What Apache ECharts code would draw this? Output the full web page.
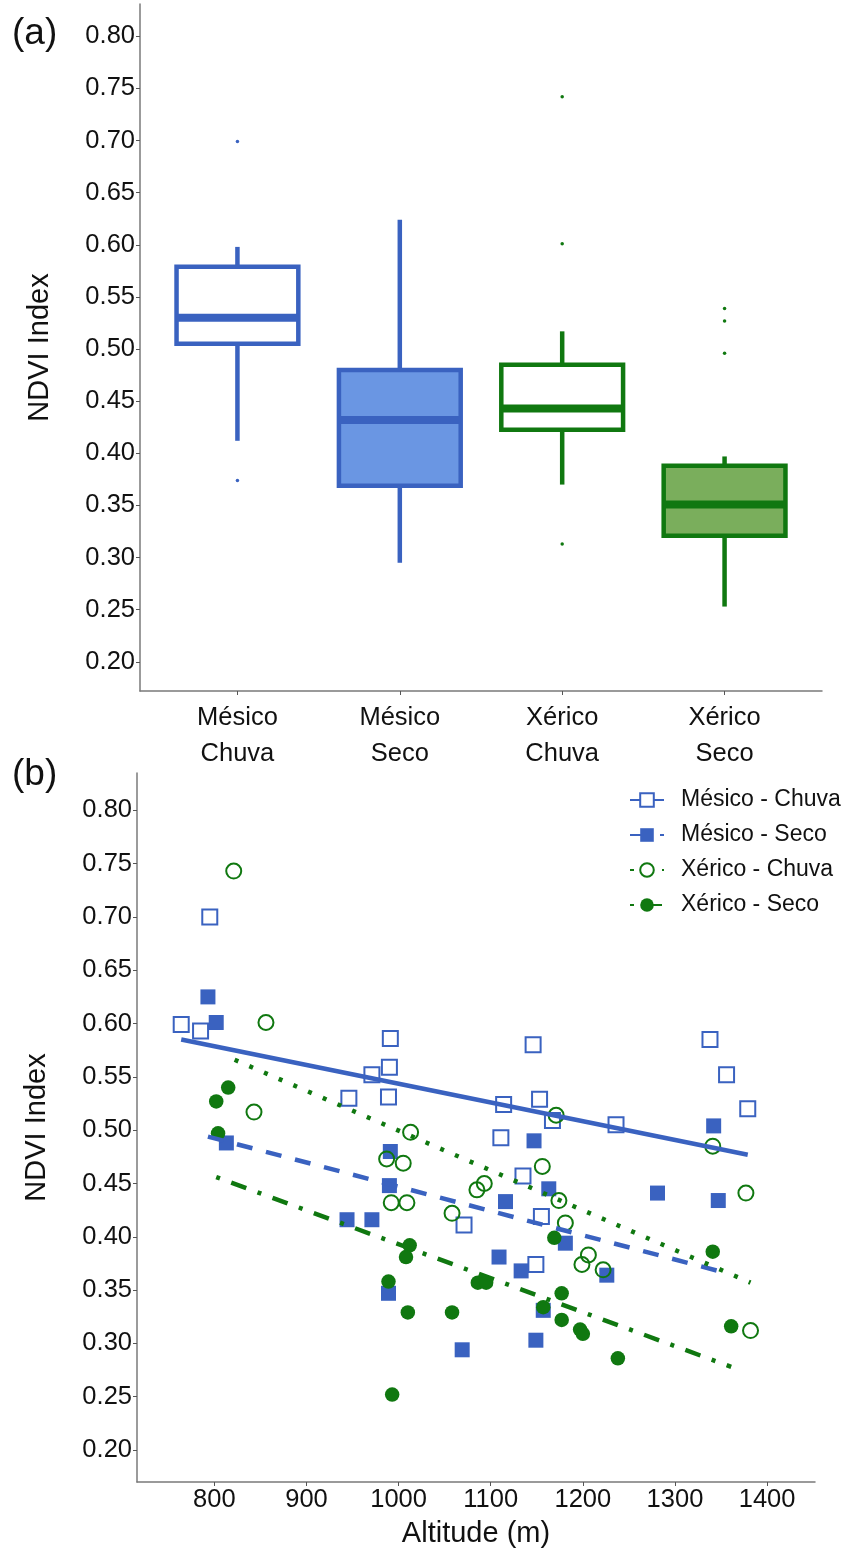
<!DOCTYPE html>
<html>
<head>
<meta charset="utf-8">
<title>NDVI Index</title>
<script src="https://cdn.jsdelivr.net/npm/echarts@6/dist/echarts.min.js"></script>
<style>
  html, body { margin: 0; padding: 0; background: #fff; }
  #chart { width: 845px; height: 1553px; }
</style>
</head>
<body>
<div id="chart"></div>
<script>
// ---- Panel (a): NDVI summary per vegetation type and season ----
const categories = ['Mésico\nChuva', 'Mésico\nSeco', 'Xérico\nChuva', 'Xérico\nSeco'];
// [lower whisker, Q1, median, Q3, upper whisker]
const boxMesicoChuva = [0.412, 0.505, 0.530, 0.579, 0.598];
const boxMesicoSeco  = [0.295, 0.369, 0.432, 0.480, 0.624];
const boxXericoChuva = [0.370, 0.4225, 0.443, 0.485, 0.517];
const boxXericoSeco  = [0.253, 0.321, 0.351, 0.388, 0.397];
const outMesicoChuva = [0.699, 0.374];
const outMesicoSeco  = [];
const outXericoChuva = [0.742, 0.601, 0.313];
const outXericoSeco  = [0.539, 0.527, 0.496];
const ndviTicks = [0.20, 0.25, 0.30, 0.35, 0.40, 0.45, 0.50, 0.55, 0.60, 0.65, 0.70, 0.75, 0.80];

// ---- Panel (b): NDVI against altitude [altitude m, NDVI] ----
const mesicoChuva = [[764,0.599],[785,0.593],[795,0.700],[991,0.586],[990,0.559],[971,0.552],[946,0.530],[989,0.531],[1071,0.411],[1146,0.580],[1338,0.585],[1356,0.552],[1379,0.520],[1114,0.524],[1153,0.529],[1167,0.509],[1236,0.505],[1111,0.493],[1135,0.457],[1155,0.419],[1149,0.374]];
const mesicoSeco = [[793,0.625],[802,0.601],[813,0.488],[991,0.480],[990,0.448],[944,0.416],[971,0.416],[1147,0.490],[1342,0.504],[1281,0.441],[1347,0.434],[1163,0.445],[1116,0.433],[1181,0.394],[1109,0.381],[1133,0.368],[1226,0.364],[989,0.347],[1157,0.331],[1069,0.294],[1149,0.303]];
const xericoChuva = [[821,0.743],[856,0.601],[843,0.517],[1013,0.498],[987,0.473],[1005,0.469],[992,0.432],[1009,0.432],[1085,0.444],[1093,0.450],[1058,0.422],[1171,0.514],[1341,0.485],[1156,0.466],[1174,0.434],[1181,0.413],[1377,0.441],[1206,0.383],[1199,0.374],[1222,0.369],[1382,0.312]];
const xericoSeco = [[815,0.540],[802,0.527],[804,0.497],[1012,0.392],[1008,0.381],[989,0.358],[1086,0.357],[1095,0.357],[1169,0.399],[1177,0.347],[1157,0.334],[1177,0.322],[1197,0.313],[1200,0.309],[1010,0.329],[1058,0.329],[1238,0.286],[1341,0.386],[1361,0.316],[993,0.252]];
// fitted linear trends: [start, end]
const trendMesicoChuva = [[764,0.585],[1379,0.477]];
const trendMesicoSeco  = [[793,0.494],[1347,0.368]];
const trendXericoChuva = [[822,0.566],[1382,0.357]];
const trendXericoSeco  = [[802,0.456],[1361,0.278]];
const altitudeTicks = [800, 900, 1000, 1100, 1200, 1300, 1400];
const seriesNames = ['Mésico - Chuva', 'Mésico - Seco', 'Xérico - Chuva', 'Xérico - Seco'];

// ---- styling ----
const BLUE = '#3a62c0';
const BLUE_FILL = '#6a96e3';
const GREEN = '#107810';
const GREEN_FILL = '#7aae5c';
const FONT = 'Liberation Sans, Arial, sans-serif';
const TXT = '#111111';
const AXIS_LINE = '#7a7a7a';

const boxLine = [BLUE, BLUE, GREEN, GREEN];
const boxFill = ['#ffffff', BLUE_FILL, '#ffffff', GREEN_FILL];

const boxStats = [boxMesicoChuva, boxMesicoSeco, boxXericoChuva, boxXericoSeco];
const boxData = boxStats.map((s, i) => [i + 1].concat(s));
const outlierSets = [outMesicoChuva, outMesicoSeco, outXericoChuva, outXericoSeco];
const outlierData = [];
outlierSets.forEach((arr, i) => arr.forEach(v => outlierData.push({ value: [i + 1, v], itemStyle: { color: boxLine[i] } })));

const chart = echarts.init(document.getElementById('chart'), null, { renderer: 'canvas' });

const tickLabel = { fontFamily: FONT, fontSize: 25.5, color: TXT };
const axisLine = { show: true, lineStyle: { color: AXIS_LINE, width: 1.5 } };
const axisTick = { show: true, length: 4, lineStyle: { color: '#555', width: 1 } };

function renderBox(params, api) {
  const x = api.value(0);
  const lo = api.value(1), q1 = api.value(2), med = api.value(3), q3 = api.value(4), hi = api.value(5);
  const pHi = api.coord([x, hi]);
  const pQ3 = api.coord([x, q3]);
  const pMed = api.coord([x, med]);
  const pQ1 = api.coord([x, q1]);
  const pLo = api.coord([x, lo]);
  const half = api.size([0.75, 0])[0] / 2;
  const stroke = boxLine[params.dataIndex];
  const fill = boxFill[params.dataIndex];
  return {
    type: 'group',
    children: [
      { type: 'line', shape: { x1: pHi[0], y1: pHi[1], x2: pQ3[0], y2: pQ3[1] }, style: { stroke: stroke, lineWidth: 4.5 } },
      { type: 'line', shape: { x1: pQ1[0], y1: pQ1[1], x2: pLo[0], y2: pLo[1] }, style: { stroke: stroke, lineWidth: 4.5 } },
      { type: 'rect', shape: { x: pQ3[0] - half, y: pQ3[1], width: half * 2, height: pQ1[1] - pQ3[1] }, style: { fill: fill, stroke: stroke, lineWidth: 4.5 } },
      { type: 'line', shape: { x1: pMed[0] - half, y1: pMed[1], x2: pMed[0] + half, y2: pMed[1] }, style: { stroke: stroke, lineWidth: 8 } }
    ]
  };
}

function trendSeries(name, data, color, symbol, dash) {
  return {
    name: name, type: 'line', xAxisIndex: 1, yAxisIndex: 1,
    data: data, showSymbol: false, symbol: symbol, symbolSize: 14,
    itemStyle: { color: color, opacity: 1 },
    lineStyle: { color: color, width: 4.5, type: dash, cap: 'butt', opacity: 1 },
    z: 5, silent: true
  };
}

function pointSeries(name, data, color, symbol, open, size) {
  return {
    name: name, type: 'scatter', xAxisIndex: 1, yAxisIndex: 1,
    data: data, symbol: symbol, symbolSize: size,
    itemStyle: open
      ? { color: 'rgba(255,255,255,0)', borderColor: color, borderWidth: 2, opacity: 1 }
      : { color: color, opacity: 1 },
    z: 3, silent: true
  };
}

const option = {
  animation: false,
  backgroundColor: '#ffffff',
  title: [
    { text: '(a)', left: 12, top: 15, padding: 0, textStyle: { fontFamily: FONT, fontSize: 37, fontWeight: 'normal', color: TXT } },
    { text: '(b)', left: 12, top: 756, padding: 0, textStyle: { fontFamily: FONT, fontSize: 37, fontWeight: 'normal', color: TXT } }
  ],
  legend: {
    data: seriesNames,
    orient: 'vertical',
    left: 624, top: 783,
    itemWidth: 34, itemHeight: 17, itemGap: 11,
    selectedMode: false,
    textStyle: { fontFamily: FONT, fontSize: 23, color: TXT, lineHeight: 24, padding: [0, 0, 0, 12] }
  },
  grid: [
    { left: 140, right: 23, top: 4, bottom: 862 },
    { left: 137, right: 30, top: 773, bottom: 71 }
  ],
  xAxis: [
    {
      gridIndex: 0, type: 'value', min: 0.4, max: 4.6,
      splitLine: { show: false }, axisLine: axisLine,
      axisTick: Object.assign({ customValues: [1, 2, 3, 4] }, axisTick),
      axisLabel: Object.assign({ customValues: [1, 2, 3, 4], margin: 9, lineHeight: 36,
        formatter: v => categories[Math.round(v) - 1] }, tickLabel)
    },
    {
      gridIndex: 1, type: 'value', min: 716, max: 1452,
      name: 'Altitude (m)', nameLocation: 'middle', nameGap: 37,
      nameTextStyle: { fontFamily: FONT, fontSize: 29, color: TXT },
      splitLine: { show: false }, axisLine: axisLine,
      axisTick: Object.assign({ customValues: altitudeTicks }, axisTick),
      axisLabel: Object.assign({ customValues: altitudeTicks, margin: 5, formatter: v => String(v) }, tickLabel)
    }
  ],
  yAxis: [
    {
      gridIndex: 0, type: 'value', min: 0.172, max: 0.831,
      name: 'NDVI Index', nameLocation: 'middle', nameGap: 86,
      nameTextStyle: { fontFamily: FONT, fontSize: 29, color: TXT },
      splitLine: { show: false }, axisLine: axisLine,
      axisTick: Object.assign({ customValues: ndviTicks }, axisTick),
      axisLabel: Object.assign({ customValues: ndviTicks, margin: 5, formatter: v => v.toFixed(2) }, tickLabel)
    },
    {
      gridIndex: 1, type: 'value', min: 0.170, max: 0.835,
      name: 'NDVI Index', nameLocation: 'middle', nameGap: 86,
      nameTextStyle: { fontFamily: FONT, fontSize: 29, color: TXT },
      splitLine: { show: false }, axisLine: axisLine,
      axisTick: Object.assign({ customValues: ndviTicks }, axisTick),
      axisLabel: Object.assign({ customValues: ndviTicks, margin: 5, formatter: v => v.toFixed(2) }, tickLabel)
    }
  ],
  series: [
    { type: 'custom', xAxisIndex: 0, yAxisIndex: 0, data: boxData, renderItem: renderBox, z: 2, silent: true },
    { type: 'scatter', xAxisIndex: 0, yAxisIndex: 0, data: outlierData, symbol: 'circle', symbolSize: 3.5, itemStyle: { opacity: 1 }, z: 3, silent: true },

    trendSeries(seriesNames[0], trendMesicoChuva, BLUE, 'emptyRect', 'solid'),
    trendSeries(seriesNames[1], trendMesicoSeco, BLUE, 'rect', [16, 14]),
    trendSeries(seriesNames[2], trendXericoChuva, GREEN, 'emptyCircle', [4, 12]),
    trendSeries(seriesNames[3], trendXericoSeco, GREEN, 'circle', [4, 12, 16, 12]),

    pointSeries(seriesNames[0], mesicoChuva, BLUE, 'rect', true, 15),
    pointSeries(seriesNames[1], mesicoSeco, BLUE, 'rect', false, 15),
    pointSeries(seriesNames[2], xericoChuva, GREEN, 'circle', true, 15),
    pointSeries(seriesNames[3], xericoSeco, GREEN, 'circle', false, 14.5)
  ]
};

chart.setOption(option);
</script>
</body>
</html>
